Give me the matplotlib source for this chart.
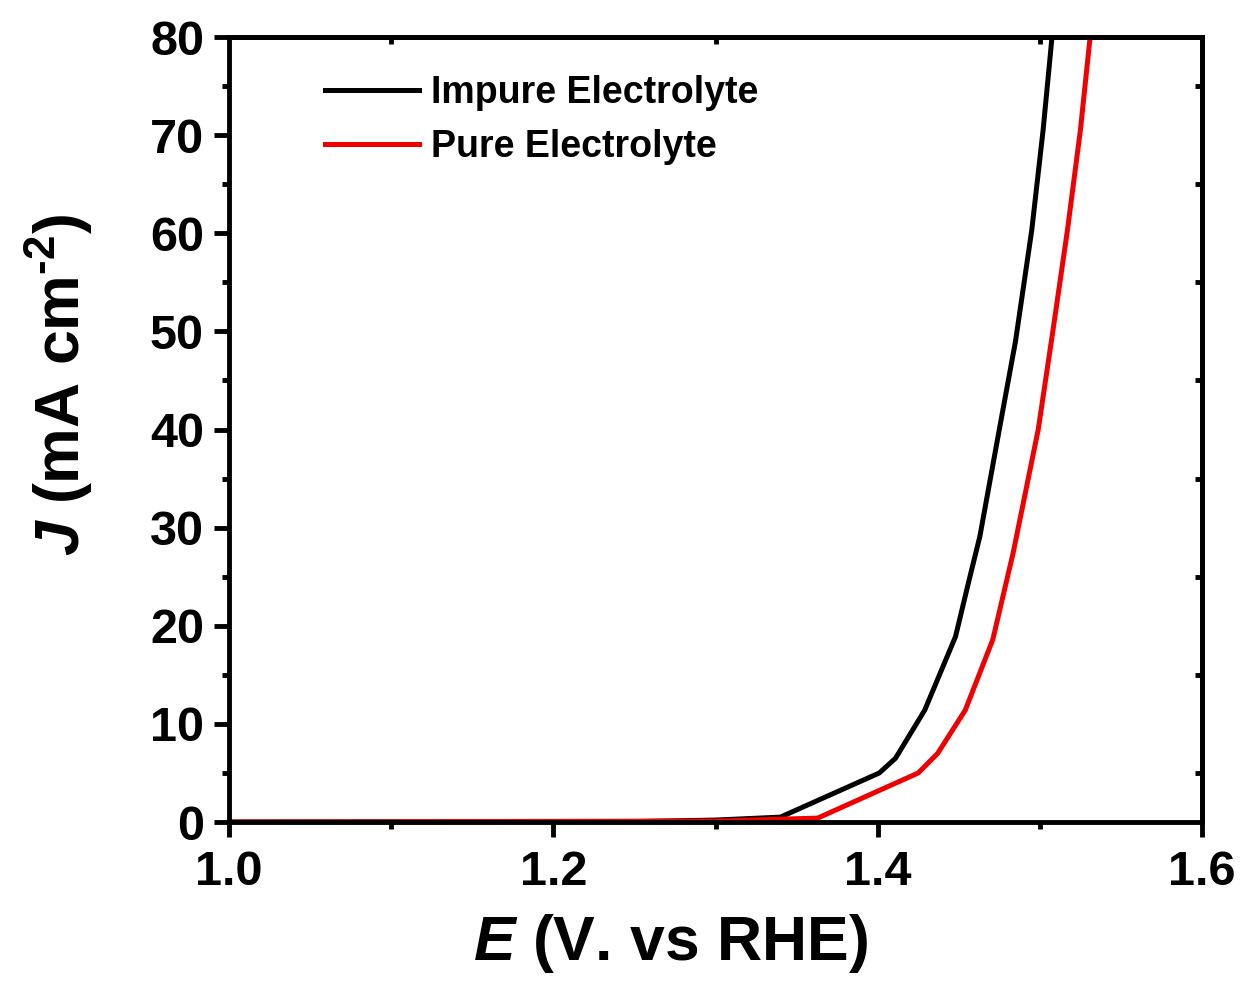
import numpy as np
import matplotlib.pyplot as plt
from matplotlib.ticker import MultipleLocator, FixedLocator

plt.rcParams['font.family'] = ['Liberation Sans', 'DejaVu Sans']
plt.rcParams['font.weight'] = 'bold'
plt.rcParams['mathtext.fontset'] = 'custom'
plt.rcParams['mathtext.it'] = 'Liberation Sans:italic:bold'
plt.rcParams['mathtext.rm'] = 'Liberation Sans:bold'

# impure electrolyte
e_impure = [1.00, 1.25, 1.30, 1.34, 1.401, 1.411, 1.429, 1.448, 1.456, 1.463, 1.475, 1.485, 1.495, 1.502, 1.5075]
j_impure = [0.0, 0.05, 0.2, 0.5, 5.0, 6.5, 11.4, 18.9, 24.4, 29.1, 40.0, 49.0, 60.3, 70.5, 80.0]

# pure electrolyte
e_pure = [1.00, 1.30, 1.363, 1.425, 1.437, 1.454, 1.471, 1.4835, 1.499, 1.508, 1.517, 1.525, 1.531]
j_pure = [0.0, 0.1, 0.4, 5.0, 7.0, 11.4, 18.6, 27.4, 40.0, 50.0, 60.3, 70.5, 80.0]

fig = plt.figure(figsize=(12.42, 9.82), dpi=100)
ax = fig.add_axes([0.1844, 0.1629, 0.7834, 0.7994])

ax.plot(e_impure, j_impure, color='black', lw=3.6, label='Impure Electrolyte')
ax.plot(e_pure, j_pure, color='#f00000', lw=3.6, label='Pure Electrolyte')

ax.set_xlim(1.0, 1.6)
ax.set_ylim(0, 80)
ax.xaxis.set_major_locator(MultipleLocator(0.2))
ax.xaxis.set_minor_locator(MultipleLocator(0.1))
ax.yaxis.set_major_locator(MultipleLocator(10))
ax.yaxis.set_minor_locator(MultipleLocator(5))
ax.xaxis.set_major_formatter(plt.FuncFormatter(lambda v, p: f'{v:.1f}'))

for s in ax.spines.values():
    s.set_linewidth(3.5)

ax.tick_params(which='major', direction='out', length=11, width=3.5, labelsize=35)
ax.tick_params(axis='x', which='major', pad=9)
ax.tick_params(axis='y', which='major', pad=7)
ax.tick_params(which='minor', direction='out', length=5, width=3.5)

# minor-only inward ticks on top and right
axt = ax.secondary_xaxis('top')
axt.xaxis.set_major_locator(plt.NullLocator())
axt.xaxis.set_minor_locator(FixedLocator([1.1, 1.3, 1.5]))
axt.tick_params(which='minor', direction='in', length=5, width=3.5, labeltop=False)
axr = ax.secondary_yaxis('right')
axr.yaxis.set_major_locator(plt.NullLocator())
axr.yaxis.set_minor_locator(FixedLocator([5, 15, 25, 35, 45, 55, 65, 75]))
axr.tick_params(which='minor', direction='in', length=5, width=3.5, labelright=False)
axt.spines['top'].set_linewidth(3.5)
axr.spines['right'].set_linewidth(3.5)

ax.set_xlabel(r'$E$ (V. vs RHE)', fontsize=45, fontweight='bold')
ax.set_ylabel(r'$J$ (mA cm$^{\text{-2}}$)', fontsize=45, fontweight='bold')
ax.xaxis.set_label_coords(0.454, -0.115)
ax.yaxis.set_label_coords(-0.138, 0.557)

ax.legend(loc='upper left', bbox_to_anchor=(0.099, 0.952), frameon=False, fontsize=27,
          borderaxespad=0, borderpad=0,
          handlelength=2.5, handletextpad=0.32, labelspacing=0.5)

fig.savefig('out.png', dpi=100)
